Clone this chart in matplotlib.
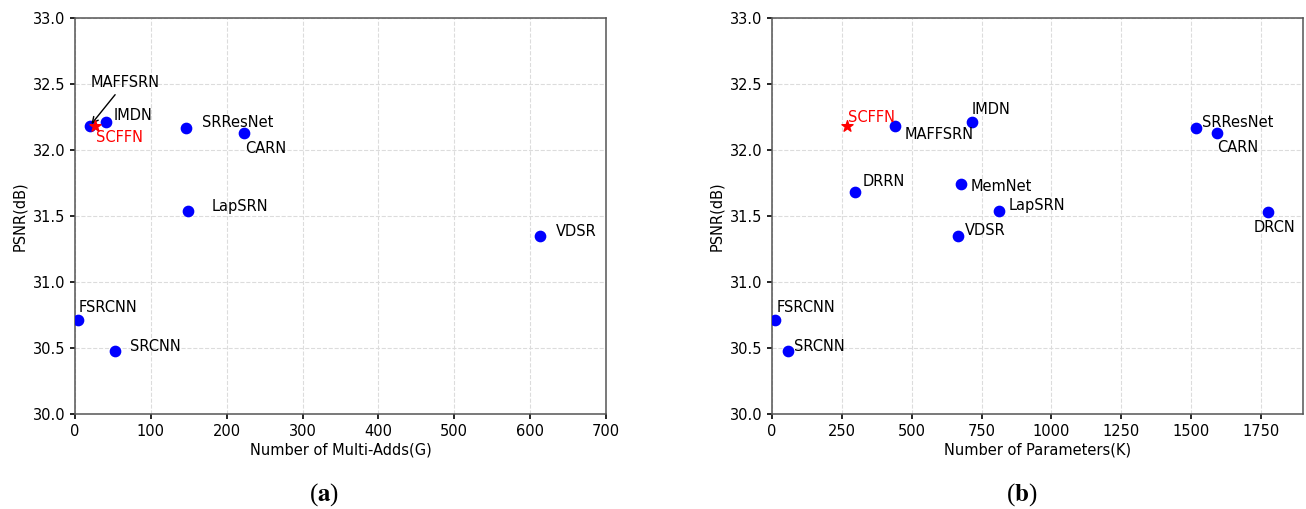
import matplotlib
matplotlib.use("Agg")
import matplotlib.pyplot as plt

# panel (a): multi-adds (G) vs PSNR
names_a = ["FSRCNN", "SRCNN", "VDSR", "LapSRN", "SRResNet", "CARN", "IMDN", "MAFFSRN"]
madds_a = [4.6, 52.7, 612.6, 149.4, 146.1, 222.8, 40.9, 19.3]
psnr_a = [30.71, 30.48, 31.35, 31.54, 32.17, 32.13, 32.21, 32.18]
ours_madds = 26.0
ours_psnr_a = 32.18

# panel (b): parameters (K) vs PSNR
names_b = ["FSRCNN", "SRCNN", "VDSR", "LapSRN", "MemNet", "DRRN", "DRCN",
           "SRResNet", "CARN", "IMDN", "MAFFSRN"]
params_b = [12, 57, 665, 813, 677, 297, 1774, 1518, 1592, 715, 441]
psnr_b = [30.71, 30.48, 31.35, 31.54, 31.74, 31.68, 31.53, 32.17, 32.13, 32.21, 32.18]
ours_params = 268
ours_psnr_b = 32.18

# label offsets in pixels (dx, dy)
offs_a = {"FSRCNN": (0, 13), "SRCNN": (15, 4), "VDSR": (16, 4), "LapSRN": (23, 4),
          "SRResNet": (16, 5), "CARN": (1, -16), "IMDN": (8, 7)}
offs_b = {"FSRCNN": (1, 13), "SRCNN": (6, 4), "VDSR": (7, 5), "LapSRN": (9, 5),
          "MemNet": (9, -2), "DRRN": (8, 11), "DRCN": (-14, -15), "SRResNet": (6, 5),
          "CARN": (0, -15), "IMDN": (0, 13), "MAFFSRN": (9, -8)}

FS = 10.5
plt.rcParams["mathtext.fontset"] = "stix"


def style(ax, xlabel, xlim, xticks):
    ax.set_xlim(*xlim)
    ax.set_ylim(30.0, 33.0)
    ax.set_xticks(xticks)
    ax.set_yticks([30.0, 30.5, 31.0, 31.5, 32.0, 32.5, 33.0])
    ax.set_yticklabels([f"{v:.1f}" for v in ax.get_yticks()])
    ax.grid(True, color="#dcdcdc", linestyle="--", linewidth=0.8)
    ax.set_axisbelow(True)
    for s in ax.spines.values():
        s.set_color("#555555")
        s.set_linewidth(1.1)
    ax.tick_params(labelsize=FS, color="black", width=1.2)
    ax.set_xlabel(xlabel, fontsize=FS, labelpad=3)
    ax.set_ylabel("PSNR(dB)", fontsize=FS)


fig = plt.figure(figsize=(13.06, 5.09), dpi=100)
ax1 = fig.add_axes([0.0574, 0.1866, 0.4066, 0.778])
ax2 = fig.add_axes([0.5911, 0.1866, 0.4066, 0.778])

ax1.scatter(madds_a, psnr_a, s=55, color="blue", zorder=3)
ax1.scatter([ours_madds], [ours_psnr_a], s=70, marker="*", color="red", zorder=4)
for n, x, y in zip(names_a, madds_a, psnr_a):
    if n == "MAFFSRN":
        ax1.annotate(n, (x, y), xytext=(1, 44), textcoords="offset pixels",
                     fontsize=FS, va="center", ha="left",
                     arrowprops=dict(arrowstyle="->", color="black", lw=1,
                                     shrinkA=2, shrinkB=2))
        continue
    ax1.annotate(n, (x, y), xytext=offs_a[n], textcoords="offset pixels",
                 fontsize=FS, va="center", ha="left")
ax1.annotate("SCFFN", (ours_madds, ours_psnr_a), xytext=(1, -11), textcoords="offset pixels",
             fontsize=FS, va="center", ha="left", color="red")
style(ax1, "Number of Multi-Adds(G)", (0, 700), range(0, 701, 100))

ax2.scatter(params_b, psnr_b, s=55, color="blue", zorder=3)
ax2.scatter([ours_params], [ours_psnr_b], s=70, marker="*", color="red", zorder=4)
for n, x, y in zip(names_b, params_b, psnr_b):
    ax2.annotate(n, (x, y), xytext=offs_b[n], textcoords="offset pixels",
                 fontsize=FS, va="center", ha="left")
ax2.annotate("SCFFN", (ours_params, ours_psnr_b), xytext=(1, 9), textcoords="offset pixels",
             fontsize=FS, va="center", ha="left", color="red")
style(ax2, "Number of Parameters(K)", (0, 1900), range(0, 1751, 250))

fig.text(0.248, 0.028, r"($\mathbf{a}$)", ha="center", va="center", fontsize=18,
         family="Liberation Serif")
fig.text(0.782, 0.028, r"($\mathbf{b}$)", ha="center", va="center", fontsize=18,
         family="Liberation Serif")

fig.savefig("out.png", dpi=100)
